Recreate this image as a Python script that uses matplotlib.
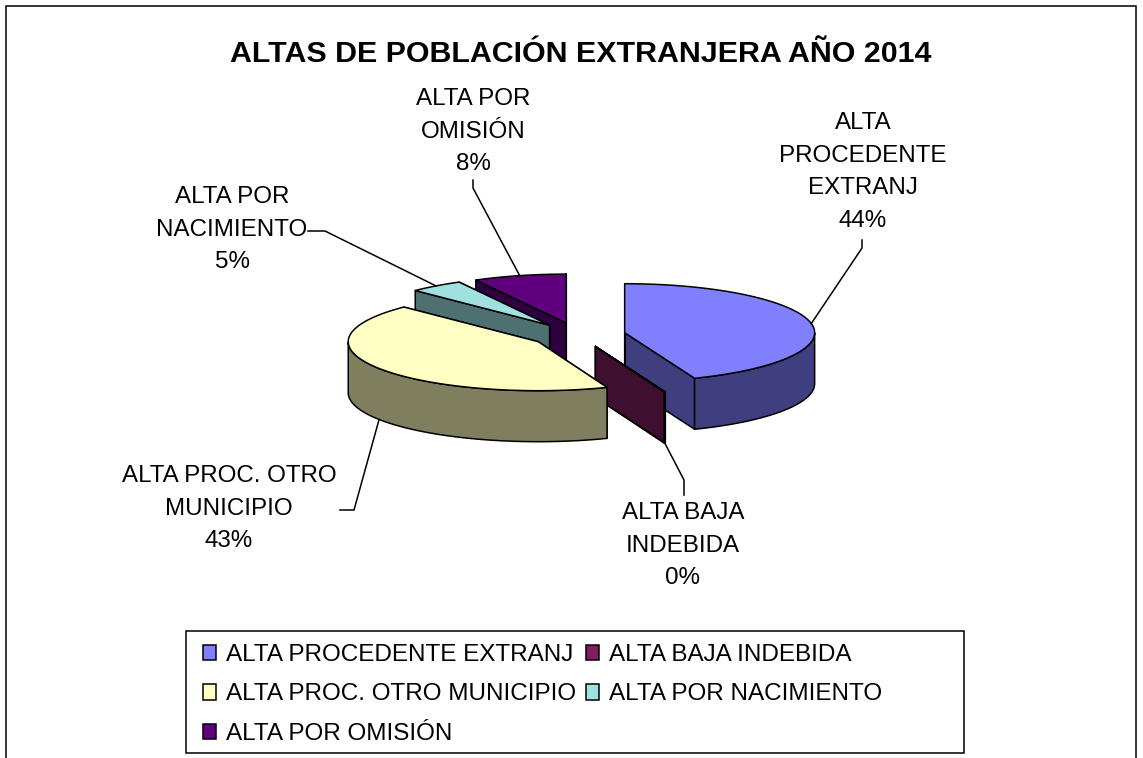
import numpy as np
import matplotlib
matplotlib.use("Agg")
import matplotlib.pyplot as plt
from matplotlib.patches import Patch, Polygon, Rectangle

plt.rcParams["font.family"] = ["Liberation Sans", "DejaVu Sans"]

TITLE = "ALTAS DE POBLACIÓN EXTRANJERA AÑO 2014"
CATEGORIES = [
    "ALTA PROCEDENTE EXTRANJ",
    "ALTA BAJA INDEBIDA",
    "ALTA PROC. OTRO MUNICIPIO",
    "ALTA POR NACIMIENTO",
    "ALTA POR OMISIÓN",
]
VALUES = [44.0, 0.1, 43.4, 4.6, 7.9]
LABEL_LINES = [
    ["ALTA", "PROCEDENTE", "EXTRANJ"],
    ["ALTA BAJA", "INDEBIDA"],
    ["ALTA PROC. OTRO", "MUNICIPIO"],
    ["ALTA POR", "NACIMIENTO"],
    ["ALTA POR", "OMISIÓN"],
]
TOP_COLORS = ["#8080FF", "#7F1F5F", "#FFFFC4", "#A0E0E0", "#5F007F"]
WALL_COLORS = ["#3F3F7F", "#3F0F2F", "#7F7F5F", "#4F7070", "#2F003F"]

# pie projection, in pixels
CX, CY = 578, 335
RX, RY = 190, 49
DEPTH = 51
EXPLODE = 0.25
EDGE = 1.1
FONT = 17.4
LEGEND_FONT = 17.5

# label centre + first row, and leader elbows (pixels)
LABEL_POS = [(863, 123), (683, 513), (229, 476), (232, 197), (473, 99)]
LEADER_ELBOWS = [
    [(862, 248), (862, 240)],
    [(684, 480), (684, 495)],
    [(354, 510), (340, 510)],
    [(325, 231), (308, 231)],
    [(473, 188), (473, 180)],
]
DRAW_ORDER = [4, 3, 0, 1, 2]


def project(angle, radius=1.0):
    # angle in degrees, clockwise from 12 o'clock
    a = np.radians(angle)
    return RX * radius * np.sin(a), -RY * radius * np.cos(a)


def draw_slice(ax, start, stop, top_color, wall_color):
    mid = (start + stop) / 2
    ox, oy = project(mid, EXPLODE)
    px, py = CX + ox, CY + oy
    angles = np.linspace(start, stop, 120)
    xs, ys = project(angles)
    xs, ys = xs + px, ys + py

    style = dict(edgecolor="black", linewidth=EDGE, joinstyle="round")
    # the far cut first, so the near one sits on top of it
    for i in (-1, 0):
        wall = [(px, py), (xs[i], ys[i]), (xs[i], ys[i] + DEPTH), (px, py + DEPTH)]
        ax.add_patch(Polygon(wall, facecolor=wall_color, **style))

    front = (angles >= 90) & (angles <= 270)
    if front.any():
        fx, fy = xs[front], ys[front]
        wall = np.r_[np.c_[fx, fy], np.c_[fx, fy + DEPTH][::-1]]
        ax.add_patch(Polygon(wall, facecolor=wall_color, **style))

    top = np.r_[[[px, py]], np.c_[xs, ys]]
    ax.add_patch(Polygon(top, facecolor=top_color, **style))

    mx, my = project(mid)
    bottom = DEPTH if 90 <= mid <= 270 else 0
    return px + mx, py + my + bottom


fig = plt.figure(figsize=(11.43, 7.58), dpi=100)
ax = fig.add_axes([0, 0, 1, 1])
ax.set_xlim(0, 1143)
ax.set_ylim(758, 0)
ax.axis("off")

ax.add_patch(Rectangle((6, 6), 1130, 800, facecolor="white", edgecolor="black", linewidth=EDGE))
ax.text(581, 54, TITLE, ha="center", va="center", fontsize=21.9, fontweight="bold")

bounds = np.r_[0, np.cumsum(VALUES)] / sum(VALUES) * 360
anchors = {}
for i in DRAW_ORDER:
    anchors[i] = draw_slice(ax, bounds[i], bounds[i + 1], TOP_COLORS[i], WALL_COLORS[i])

for i, value in enumerate(VALUES):
    lines = LABEL_LINES[i] + ["%.0f%%" % value]
    x, y = LABEL_POS[i]
    for j, line in enumerate(lines):
        ax.text(x, y + j * 32.7, line, ha="center", va="center", fontsize=FONT)
    path = [anchors[i]] + LEADER_ELBOWS[i]
    ax.plot([p[0] for p in path], [p[1] for p in path], color="black", lw=EDGE, solid_joinstyle="miter")

ax.add_patch(Rectangle((186, 631), 778, 122, facecolor="white", edgecolor="black", linewidth=EDGE))
handles = [Patch(facecolor=TOP_COLORS[i], edgecolor="black", linewidth=EDGE) for i in range(len(CATEGORIES))]
order = [0, 2, 4, 1, 3]
ax.legend(
    [handles[i] for i in order],
    [CATEGORIES[i] for i in order],
    loc="upper left",
    bbox_to_anchor=(203, 644),
    bbox_transform=ax.transData,
    ncol=2,
    fontsize=LEGEND_FONT,
    frameon=False,
    borderaxespad=0,
    borderpad=0,
    handlelength=0.55,
    handleheight=0.62,
    handletextpad=0.38,
    columnspacing=0.42,
    labelspacing=0.72,
)

fig.savefig("out.png", dpi=100)
